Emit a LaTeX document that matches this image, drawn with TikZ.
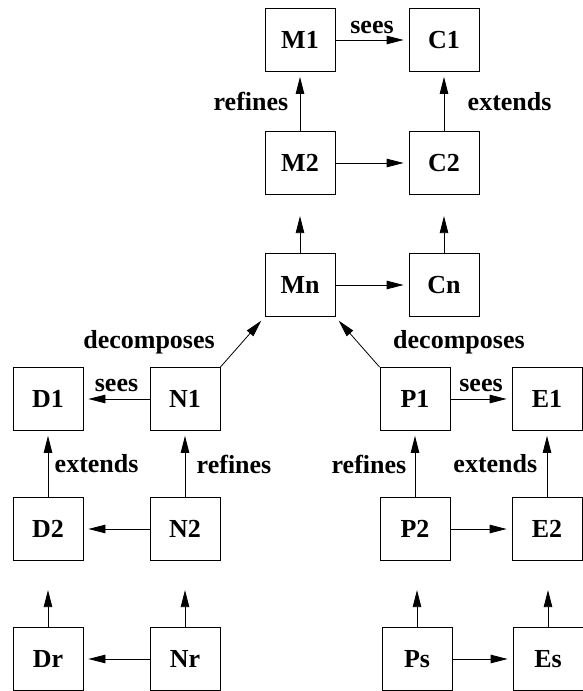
\documentclass[tikz,border=0pt]{standalone}
\usepackage{fontspec}
\setmainfont{Liberation Serif}
\usetikzlibrary{arrows.meta, positioning}

\begin{document}
\begin{tikzpicture}[
    x=1pt, y=1pt,
    >={Triangle[length=17pt, width=8.5pt]},
    font=\fontsize{26}{31}\selectfont\bfseries,
    box/.style={rectangle, draw=black, line width=0.8pt,
                minimum width=70pt, minimum height=63pt, inner sep=0pt},
    arrow/.style={->, line width=0.8pt, shorten >=5pt},
    gap/.style={->, line width=0.8pt}
]
\useasboundingbox (0,0) rectangle (583,691);

% Machines and contexts
\node[box] (m1) at (300, 651) {M1};
\node[box] (c1) at (444, 651) {C1};
\node[box] (m2) at (300, 528) {M2};
\node[box] (c2) at (444, 528) {C2};
\node[box] (mn) at (300, 406) {Mn};
\node[box] (cn) at (444, 406) {Cn};

% Left sub-development
\node[box] (d1) at (48, 292) {D1};
\node[box] (n1) at (185, 292) {N1};
\node[box] (d2) at (48, 162) {D2};
\node[box] (n2) at (185, 162) {N2};
\node[box] (dr) at (48, 32) {Dr};
\node[box] (nr) at (185, 32) {Nr};

% Right sub-development
\node[box] (p1) at (415, 292) {P1};
\node[box] (e1) at (547, 292) {E1};
\node[box] (p2) at (415, 162) {P2};
\node[box] (e2) at (547, 162) {E2};
\node[box] (ps) at (417, 32) {Ps};
\node[box] (es) at (548, 32) {Es};

% Open ends of the refinement chains
\coordinate[above=37pt of mn] (mn-up);
\coordinate[above=37pt of cn] (cn-up);
\coordinate[above=37pt of dr] (dr-up);
\coordinate[above=37pt of nr] (nr-up);
\coordinate[above=37pt of ps] (ps-up);
\coordinate[above=37pt of es] (es-up);

% Top chain
\draw[arrow] (m1) -- (c1) node[midway, above=3pt] {sees};
\draw[arrow] (m2) -- (m1) node[midway, left=8pt] {refines};
\draw[arrow] (c2) -- (c1) node[midway, right=20pt] {extends};
\draw[arrow] (m2) -- (c2);
\draw[arrow] (mn) -- (cn);
\draw[gap] (mn) -- (mn-up);
\draw[gap] (cn) -- (cn-up);

% Decomposition of Mn
\draw[arrow] (n1.north east) -- (mn.south west) node[midway, left=24pt] {decomposes};
\draw[arrow] (p1.north west) -- (mn.south east) node[midway, right=32pt] {decomposes};

% Left chain
\draw[arrow] (n1) -- (d1) node[midway, above=4pt] {sees};
\draw[arrow] (d2) -- (d1) node[midway, right=3pt] {extends};
\draw[arrow] (n2) -- (n1) node[midway, right=8pt] {refines};
\draw[arrow] (n2) -- (d2);
\draw[arrow] (nr) -- (dr);
\draw[gap] (dr) -- (dr-up);
\draw[gap] (nr) -- (nr-up);

% Right chain
\draw[arrow] (p1) -- (e1) node[midway, above=4pt] {sees};
\draw[arrow] (p2) -- (p1) node[midway, left=5pt] {refines};
\draw[arrow] (e2) -- (e1) node[midway, left=6pt] {extends};
\draw[arrow] (p2) -- (e2);
\draw[arrow] (ps) -- (es);
\draw[gap] (ps) -- (ps-up);
\draw[gap] (es) -- (es-up);

\end{tikzpicture}
\end{document}
